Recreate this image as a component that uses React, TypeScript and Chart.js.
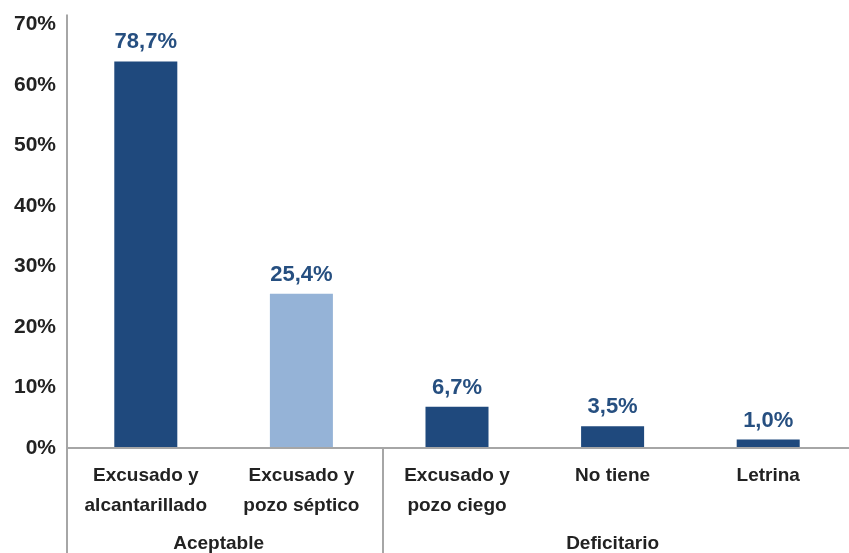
import React, { useEffect, useRef } from 'react';
import { Chart, registerables } from 'chart.js';

Chart.register(...registerables);

const categories: (string | string[])[] = [
  ['Excusado y', 'alcantarillado'],
  ['Excusado y', 'pozo séptico'],
  ['Excusado y', 'pozo ciego'],
  'No tiene',
  'Letrina',
];
const values = [63.9, 25.5, 6.8, 3.6, 1.4];
const valueLabels = ['78,7%', '25,4%', '6,7%', '3,5%', '1,0%'];
const barColors = ['#1F497D', '#95B3D7', '#1F497D', '#1F497D', '#1F497D'];
const groupLabels = ['Aceptable', 'Deficitario'];
const groupStarts = [0, 2];
const groupEnds = [1, 4];
const yMax = 70;
const yStep = 10;

const FONT = '"Liberation Sans", Arial, Helvetica, sans-serif';
const AXIS_COLOR = '#a6a6a6';
const LABEL_COLOR = '#264F80';
const TEXT_COLOR = '#222222';

const overlayPlugin = {
  id: 'overlay',
  afterDraw(chart: any) {
    const { ctx, chartArea } = chart;
    const xs = chart.scales.x;
    const H = chart.height;
    const W = chart.width;
    ctx.save();
    ctx.strokeStyle = AXIS_COLOR;
    ctx.lineWidth = 2;
    // y axis line
    ctx.beginPath();
    ctx.moveTo(chartArea.left - 1, chartArea.top - 10);
    ctx.lineTo(chartArea.left - 1, H);
    ctx.stroke();
    // x axis line
    ctx.beginPath();
    ctx.moveTo(chartArea.left - 1, chartArea.bottom);
    ctx.lineTo(W, chartArea.bottom);
    ctx.stroke();
    // group separators
    const catW = (chartArea.right - chartArea.left) / categories.length;
    for (let g = 0; g < groupEnds.length - 1; g++) {
      const sx = Math.round(xs.getPixelForValue(groupEnds[g]) + catW / 2 + 4);
      ctx.beginPath();
      ctx.moveTo(sx, chartArea.bottom);
      ctx.lineTo(sx, H);
      ctx.stroke();
    }
    // data labels
    const meta = chart.getDatasetMeta(0);
    ctx.fillStyle = LABEL_COLOR;
    ctx.font = `bold 22px ${FONT}`;
    ctx.textAlign = 'center';
    ctx.textBaseline = 'alphabetic';
    meta.data.forEach((bar: any, i: number) => {
      ctx.fillText(valueLabels[i], bar.x, bar.y - 13);
    });
    // group labels
    ctx.fillStyle = TEXT_COLOR;
    ctx.font = `bold 19px ${FONT}`;
    ctx.textBaseline = 'middle';
    for (let g = 0; g < groupLabels.length; g++) {
      const a = xs.getPixelForValue(groupStarts[g]);
      const b = xs.getPixelForValue(groupEnds[g]);
      const cx = g === 0 ? (a + b) / 2 - 5 : (a + b) / 2;
      ctx.fillText(groupLabels[g], cx, 544);
    }
    ctx.restore();
  },
};

export default function App() {
  const ref = useRef<HTMLCanvasElement | null>(null);
  useEffect(() => {
    if (!ref.current) return;
    const chart = new Chart(ref.current, {
      type: 'bar',
      data: {
        labels: categories as any,
        datasets: [
          {
            data: values,
            backgroundColor: barColors,
            borderWidth: 0,
            barPercentage: 0.405,
            categoryPercentage: 1,
          },
        ],
      },
      options: {
        responsive: false,
        animation: false,
        layout: { padding: { top: 22, right: 3, left: 0, bottom: 0 } },
        plugins: {
          legend: { display: false },
          tooltip: { enabled: false },
        },
        scales: {
          x: {
            grid: { display: false, drawTicks: false },
            border: { display: false },
            ticks: {
              autoSkip: false,
              maxRotation: 0,
              minRotation: 0,
              padding: 13,
              color: TEXT_COLOR,
              font: { family: FONT, size: 19, weight: 'bold', lineHeight: 1.58 },
            },
            afterFit(scale: any) {
              scale.height = 105;
            },
          },
          y: {
            min: 0,
            max: yMax,
            grid: { display: false, drawTicks: false },
            border: { display: false },
            ticks: {
              stepSize: yStep,
              padding: 12,
              color: TEXT_COLOR,
              font: { family: FONT, size: 21, weight: 'bold' },
              callback: (v: any) => `${v}%`,
            },
            afterFit(scale: any) {
              scale.width = 68;
            },
          },
        },
      },
      plugins: [overlayPlugin],
    });
    return () => chart.destroy();
  }, []);
  return (
    <div style={{ position: 'absolute', left: 0, top: 0, width: 849, height: 553, background: '#fff' }}>
      <canvas ref={ref} width={849} height={553} />
    </div>
  );
}
